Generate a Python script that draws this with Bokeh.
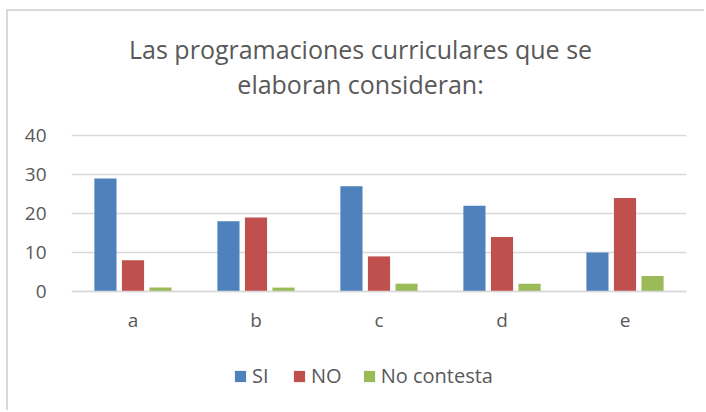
from bokeh.plotting import figure
from bokeh.models import Range1d, FactorRange, FixedTicker, Label, Legend, LegendItem
from bokeh.transform import dodge
from bokeh.models import ColumnDataSource
from bokeh.embed import file_html
from bokeh.resources import INLINE

categories = ["a", "b", "c", "d", "e"]
si = [29, 18, 27, 22, 10]
no = [8, 19, 9, 14, 24]
no_contesta = [1, 1, 2, 2, 4]
y_ticks = [0, 10, 20, 30, 40]
title_lines = ["Las programaciones curriculares que se", "elaboran consideran:"]

FONT = "Open Sans"
TXT = "#595959"
GRID = "#d9d9d9"

src = ColumnDataSource(dict(cat=categories, si=si, no=no, nc=no_contesta))

p = figure(width=698, height=401, x_range=FactorRange(*categories, range_padding=0),
           y_range=Range1d(-31.03, 71.8), output_backend="svg", toolbar_location=None,
           min_border_left=63, min_border_right=20, min_border_top=0, min_border_bottom=0,
           styles={"margin-left": "6px", "margin-top": "9px",
                   "border-left": "2px solid #d9d9d9", "border-top": "2px solid #d9d9d9"})
p.outline_line_color = None

w = 0.18
r1 = p.vbar(x=dodge("cat", -0.224, range=p.x_range), top="si", width=w, source=src,
            fill_color="#4f81bd", line_color=None)
r2 = p.vbar(x=dodge("cat", 0.0, range=p.x_range), top="no", width=w, source=src,
            fill_color="#c0504d", line_color=None)
r3 = p.vbar(x=dodge("cat", 0.224, range=p.x_range), top="nc", width=w, source=src,
            fill_color="#9bbb59", line_color=None)

p.xgrid.grid_line_color = None
p.ygrid.grid_line_color = GRID
p.ygrid.grid_line_width = 1.5
p.yaxis.ticker = FixedTicker(ticks=y_ticks)
p.yaxis.axis_line_color = None
p.yaxis.major_tick_line_color = None
p.yaxis.minor_tick_line_color = None
p.yaxis.major_label_standoff = 19
p.xaxis.fixed_location = 0
p.xaxis.axis_line_color = GRID
p.xaxis.axis_line_width = 1.5
p.xaxis.major_tick_line_color = None
p.xaxis.minor_tick_line_color = None
p.xaxis.major_label_standoff = 10
for ax in (p.xaxis, p.yaxis):
    ax.major_label_text_font = FONT
    ax.major_label_text_font_size = "19px"
    ax.major_label_text_color = TXT

p.add_layout(Label(x=2.35, y=62.3, text=title_lines[0], text_align="center",
                   text_baseline="alphabetic", text_font=FONT, text_font_size="25px",
                   text_color=TXT))
p.add_layout(Label(x=2.35, y=53.3, text=title_lines[1], text_align="center",
                   text_baseline="alphabetic", text_font=FONT, text_font_size="25px",
                   text_color=TXT))

legend = Legend(items=[LegendItem(label="SI", renderers=[r1]),
                       LegendItem(label="NO", renderers=[r2]),
                       LegendItem(label="No contesta", renderers=[r3])],
                orientation="horizontal", location=(162, 23),
                label_text_font=FONT, label_text_font_size="20px", label_text_color=TXT,
                glyph_width=14, glyph_height=14, spacing=20, label_standoff=5,
                border_line_color=None, background_fill_alpha=0, padding=0, margin=0)
p.add_layout(legend, "center")

open("out.html", "w").write(file_html(p, INLINE))
